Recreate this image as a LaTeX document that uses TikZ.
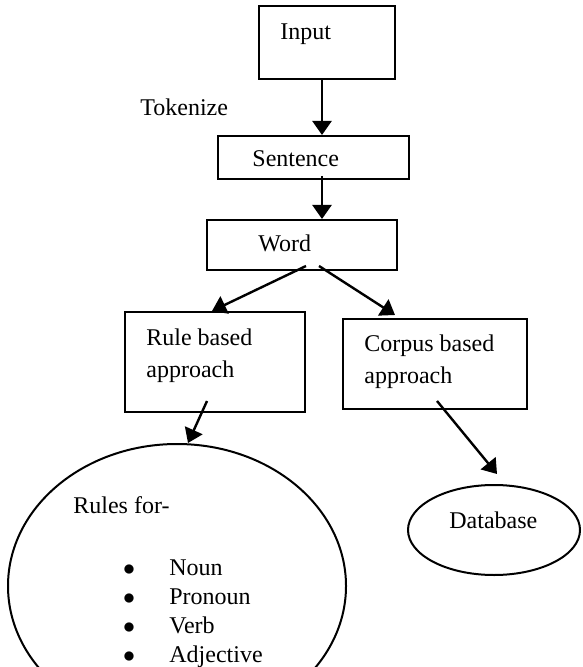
\documentclass[tikz,border=0pt]{standalone}
\usepackage{fontspec}
\setmainfont{Liberation Serif}
\usetikzlibrary{arrows.meta,shapes.geometric}
\tikzset{
  box/.style={draw, rectangle, line width=1pt, inner sep=0pt},
  oval/.style={draw, ellipse, line width=1pt, inner sep=0pt},
  txt/.style={inner sep=0pt, anchor=base west, align=left,
    font=\fontsize{12}{16}\selectfont},
  arr/.style={-{Triangle[length=7pt,width=9.5pt]}, line width=1.2pt},
}
\newcommand{\listbullet}{\makebox[23.5pt][l]{\hspace{0.3pt}$\bullet$}}
\begin{document}
\begin{tikzpicture}[x=0.5pt,y=-0.5pt]
  \useasboundingbox (0,0) rectangle (582,667);
  \clip (0,0) rectangle (582,667);
  % boxes and ovals
  \node[box, minimum width=68pt, minimum height=36.5pt] (input) at (327,42.5) {};
  \node[box, minimum width=95.5pt, minimum height=21.5pt] (sentence) at (313.5,157.5) {};
  \node[box, minimum width=95pt, minimum height=25pt] (word) at (302,245) {};
  \node[box, minimum width=90pt, minimum height=50pt] (rule) at (215,362) {};
  \node[box, minimum width=92pt, minimum height=45pt] (corpus) at (435,364) {};
  \node[oval, minimum width=169pt, minimum height=142pt] (rules) at (177,586) {};
  \node[oval, minimum width=86pt, minimum height=45pt] (database) at (494,530) {};
  % texts (multi-line nodes sit on their last line)
  \node[txt] (inputtext) at (280,40) {Input};
  \node[txt] (tokenize) at (140,116) {Tokenize};
  \node[txt] (sentencetext) at (252,167) {Sentence};
  \node[txt] (wordtext) at (258,252) {Word};
  \node[txt] (ruletext) at (146,377) {Rule based\\approach};
  \node[txt] (corpustext) at (364,383) {Corpus based\\approach};
  \node[txt] (rulesfor) at (73,513) {Rules for-};
  \node[txt, font=\fontsize{12}{14.5}\selectfont] (ruleslist) at (122,662)
    {\listbullet Noun\\
     \listbullet Pronoun\\
     \listbullet Verb\\
     \listbullet Adjective};
  \node[txt] (databasetext) at (449,528) {Database};
  % arrows
  \draw[arr] ([shift={(-5,0)}]input.south) -- ([shift={(8.5,0)}]sentence.north);
  \draw[arr] ([shift={(8.5,-4)}]sentence.south) -- ([shift={(20,0)}]word.north);
  \draw[arr] ([shift={(4,-5)}]word.south) -- ([shift={(-3,0)}]rule.north);
  \draw[arr] ([shift={(17,-5)}]word.south) -- ([shift={(-40,-3)}]corpus.north);
  \draw[arr] ([shift={(-8,-12)}]rule.south) -- ([shift={(11,0)}]rules.north);
  \draw[arr] ([shift={(2,-9)}]corpus.south) -- ([shift={(3,-10)}]database.north);
\end{tikzpicture}
\end{document}
